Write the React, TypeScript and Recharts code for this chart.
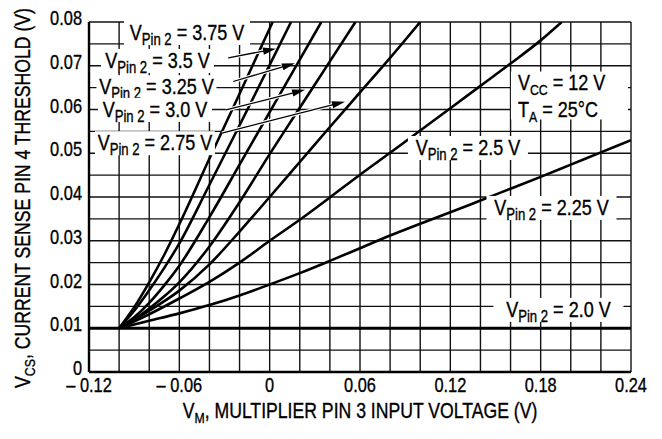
import React from "react";
import {
  LineChart,
  Line,
  XAxis,
  YAxis,
  CartesianGrid,
  ReferenceDot,
  ReferenceLine,
} from "recharts";

const FONT = "'Liberation Sans', Arial, Helvetica, sans-serif";
const SQUEEZE = 0.82;

// Axis ticks and labels
const xTicks = [-0.12, -0.06, 0, 0.06, 0.12, 0.18, 0.24];
const xTickLabels = ["\u2013 0.12", "\u2013 0.06", "0", "0.06", "0.12", "0.18", "0.24"];
const yTicks = [0, 0.01, 0.02, 0.03, 0.04, 0.05, 0.06, 0.07, 0.08];
const yTickLabels = ["0", "0.01", "0.02", "0.03", "0.04", "0.05", "0.06", "0.07", "0.08"];

// Grid values
const xGrid = [
  -0.12, -0.1, -0.08, -0.06, -0.04, -0.02, 0, 0.02, 0.04, 0.06, 0.08, 0.1, 0.12, 0.14,
  0.16, 0.18, 0.2, 0.22, 0.24,
];
const yGrid = [
  0, 0.005, 0.01, 0.015, 0.02, 0.025, 0.03, 0.035, 0.04, 0.045, 0.05, 0.055, 0.06,
  0.065, 0.07, 0.075, 0.08,
];

// Series: [VM, VCS]
const vPin375: [number, number][] = [
  [-0.1, 0.01], [-0.09, 0.0148], [-0.08, 0.0205], [-0.07, 0.0268], [-0.06, 0.0338],
  [-0.04, 0.0488], [-0.02, 0.0636], [0.002, 0.08],
];
const vPin35: [number, number][] = [
  [-0.1, 0.01], [-0.09, 0.014], [-0.08, 0.0187], [-0.07, 0.0238], [-0.06, 0.0294],
  [-0.04, 0.0428], [-0.02, 0.0564], [0, 0.0702], [0.0142, 0.08],
];
const vPin325: [number, number][] = [
  [-0.1, 0.01], [-0.09, 0.0125], [-0.08, 0.0158], [-0.07, 0.0198], [-0.06, 0.0243],
  [-0.04, 0.0354], [-0.02, 0.0474], [0, 0.0594], [0.02, 0.0714], [0.0343, 0.08],
];
const vPin30: [number, number][] = [
  [-0.1, 0.01], [-0.09, 0.012], [-0.08, 0.0145], [-0.07, 0.0173], [-0.06, 0.0205],
  [-0.04, 0.0287], [-0.02, 0.0388], [0, 0.0498], [0.02, 0.0604], [0.04, 0.071],
  [0.057, 0.08],
];
const vPin275: [number, number][] = [
  [-0.1, 0.01], [-0.08, 0.014], [-0.06, 0.0186], [-0.04, 0.0246], [-0.02, 0.0321],
  [0, 0.04], [0.02, 0.048], [0.04, 0.056], [0.06, 0.0639], [0.08, 0.0718], [0.1, 0.08],
];
const vPin25: [number, number][] = [
  [-0.1, 0.01], [-0.08, 0.0132], [-0.06, 0.0168], [-0.04, 0.0206], [-0.02, 0.025],
  [0, 0.03], [0.02, 0.0348], [0.04, 0.0399], [0.06, 0.0451], [0.08, 0.0501],
  [0.1, 0.0552], [0.12, 0.0603], [0.14, 0.0654], [0.16, 0.0705], [0.18, 0.0758],
  [0.194, 0.08],
];
const vPin225: [number, number][] = [
  [-0.1, 0.01], [-0.08, 0.0117], [-0.06, 0.0134], [-0.04, 0.0153], [-0.02, 0.0175],
  [0, 0.02], [0.02, 0.0226], [0.04, 0.0254], [0.06, 0.0283], [0.08, 0.0312],
  [0.1, 0.0339], [0.12, 0.0365], [0.14, 0.0392], [0.16, 0.0419], [0.18, 0.0446],
  [0.2, 0.0474], [0.22, 0.0502], [0.24, 0.053],
];
const vPin20: [number, number][] = [
  [-0.12, 0.01], [0.24, 0.01],
];

const curveList = [vPin375, vPin35, vPin325, vPin30, vPin275, vPin25, vPin225];

// Curve labels
const labelValues = ["3.75", "3.5", "3.25", "3.0", "2.75", "2.5", "2.25", "2.0"];
const labelX = [-0.0549, -0.0745, -0.0752, -0.0762, -0.0762, 0.1317, 0.1872, 0.1918];
const labelY = [0.0775, 0.0711, 0.0651, 0.0599, 0.0523, 0.0512, 0.0375, 0.0142];
const labelBoxW = [126, 113, 120, 114, 120, 120, 130, 130];

// Arrows from labels to curves: tail -> head
const arrowTailX = [-0.0275, -0.0242, -0.029, -0.0317];
const arrowTailY = [0.0718, 0.0664, 0.0599, 0.0546];
const arrowHeadX = [0.0042, 0.0168, 0.0235, 0.05];
const arrowHeadY = [0.0739, 0.0706, 0.0645, 0.0618];

// Conditions box anchor
const condX = 0.1649;
const condY = 0.0632;

const toRows = (pts: [number, number][]) => pts.map(([x, y]) => ({ x, y }));

// Text drawn in Liberation Sans, squeezed horizontally to look like a narrow face
const Narrow = (props: any) => {
  const { x, y, anchor = "start", size, rotate = 0, children } = props;
  return (
    <g transform={`translate(${x},${y}) rotate(${rotate}) scale(${SQUEEZE},1)`}>
      <text
        x={0}
        y={0}
        textAnchor={anchor}
        fontFamily={FONT}
        fontSize={size}
        fill="#000"
        stroke="#000"
        strokeWidth={0.35}
        style={{ whiteSpace: "pre" }}
      >
        {children}
      </text>
    </g>
  );
};

const Sub = (props: any) => {
  const { main, sub, rest, subSize } = props;
  return (
    <>
      <tspan>{main}</tspan>
      <tspan dy={5} fontSize={subSize}>{sub}</tspan>
      <tspan dy={-5}>{rest}</tspan>
    </>
  );
};

const PinLabel = (props: any) => {
  const { cx, cy, value, boxW } = props;
  return (
    <g>
      <rect x={cx - boxW / 2} y={cy - 12} width={boxW} height={24} fill="#fff" />
      <Narrow x={cx} y={cy + 7} anchor="middle" size={22}>
        {Sub({ main: "V", sub: "Pin 2", rest: ` = ${value} V`, subSize: 16 })}
      </Narrow>
    </g>
  );
};

const CondLabel = (props: any) => {
  const { cx, cy } = props;
  return (
    <g>
      <rect x={cx - 7} y={cy - 24} width={117} height={48} fill="#fff" />
      <Narrow x={cx} y={cy - 6} size={22}>
        {Sub({ main: "V", sub: "CC", rest: " = 12 V", subSize: 15 })}
      </Narrow>
      <Narrow x={cx} y={cy + 21} size={22}>
        {Sub({ main: "T", sub: "A", rest: " = 25\u00B0C", subSize: 15 })}
      </Narrow>
    </g>
  );
};

const ArrowShape = (props: any) => {
  const { x1, y1, x2, y2 } = props;
  const dx = x2 - x1;
  const dy = y2 - y1;
  const len = Math.sqrt(dx * dx + dy * dy) || 1;
  const ux = dx / len;
  const uy = dy / len;
  const hl = 13;
  const hw = 3.6;
  const bx = x2 - ux * hl;
  const by = y2 - uy * hl;
  const px = -uy * hw;
  const py = ux * hw;
  return (
    <g>
      <line x1={x1} y1={y1} x2={bx} y2={by} stroke="#fff" strokeWidth={3.5} />
      <line x1={x1} y1={y1} x2={bx + ux * 2} y2={by + uy * 2} stroke="#000" strokeWidth={1.3} />
      <polygon
        points={`${x2},${y2} ${bx + px},${by + py} ${bx - px},${by - py}`}
        fill="#000"
      />
    </g>
  );
};

const XTitle = (props: any) => {
  const vb = props.viewBox || { x: 81, y: 372, width: 542 };
  const cx = vb.x + vb.width / 2;
  return (
    <Narrow x={cx} y={418} anchor="middle" size={21.5}>
      {Sub({ main: "V", sub: "M", rest: ", MULTIPLIER PIN 3 INPUT VOLTAGE (V)", subSize: 15 })}
    </Narrow>
  );
};

const YTitle = () => (
  <Narrow x={22} y={198} anchor="middle" size={21.5} rotate={-90}>
    {Sub({ main: "V", sub: "CS", rest: ", CURRENT SENSE PIN 4 THRESHOLD (V)", subSize: 15 })}
  </Narrow>
);

const fmtX = (v: number) => {
  const i = xTicks.findIndex((t) => Math.abs(t - v) < 1e-9);
  return i >= 0 ? xTickLabels[i] : "";
};
const fmtY = (v: number) => {
  const i = yTicks.findIndex((t) => Math.abs(t - v) < 1e-9);
  return i >= 0 ? yTickLabels[i] : "";
};

const XTick = (props: any) => {
  const { x, y, payload } = props;
  return (
    <Narrow x={x} y={y + 16} anchor="middle" size={20}>
      {fmtX(payload.value)}
    </Narrow>
  );
};

const YTick = (props: any) => {
  const { x, y, payload } = props;
  return (
    <Narrow x={x} y={y + 3} anchor="end" size={20}>
      {fmtY(payload.value)}
    </Narrow>
  );
};

export default function App() {
  return (
    <div style={{ width: 654, height: 439, marginTop: -8, background: "#fff" }}>
      <LineChart
        width={654}
        height={439}
        margin={{ top: 22, right: 31, bottom: 0, left: 0 }}
        style={{ fontFamily: FONT }}
      >
        <CartesianGrid
          stroke="#111"
          strokeWidth={1.4}
          verticalValues={xGrid}
          horizontalValues={yGrid}
        />
        <XAxis
          dataKey="x"
          type="number"
          domain={[-0.12, 0.24]}
          allowDataOverflow
          ticks={xTicks}
          interval={0}
          tickLine={false}
          tickSize={0}
          tickMargin={4}
          axisLine={{ stroke: "#000", strokeWidth: 2.4 }}
          tick={(p: any) => <XTick {...p} />}
          height={67}
          label={{ content: (p: any) => <XTitle {...p} /> }}
        />
        <YAxis
          type="number"
          domain={[0, 0.08]}
          allowDataOverflow
          ticks={yTicks}
          interval={0}
          tickLine={false}
          tickSize={0}
          tickMargin={7}
          axisLine={{ stroke: "#000", strokeWidth: 2.4 }}
          tick={(p: any) => <YTick {...p} />}
          width={81}
          label={{ content: () => <YTitle /> }}
        />
        <Line
          data={toRows(vPin20)}
          dataKey="y"
          type="linear"
          stroke="#000"
          strokeWidth={3.2}
          dot={false}
          activeDot={false}
          isAnimationActive={false}
        />
        {curveList.map((c, i) => (
          <Line
            key={i}
            data={toRows(c)}
            dataKey="y"
            type="monotone"
            stroke="#000"
            strokeWidth={2.6}
            dot={false}
            activeDot={false}
            isAnimationActive={false}
          />
        ))}
        {labelValues.map((v, i) => (
          <ReferenceDot
            key={"l" + i}
            x={labelX[i]}
            y={labelY[i]}
            r={0}
            shape={(p: any) => <PinLabel {...p} value={v} boxW={labelBoxW[i]} />}
          />
        ))}
        <ReferenceDot x={condX} y={condY} r={0} shape={(p: any) => <CondLabel {...p} />} />
        {arrowTailX.map((_, i) => (
          <ReferenceLine
            key={"a" + i}
            segment={[
              { x: arrowTailX[i], y: arrowTailY[i] },
              { x: arrowHeadX[i], y: arrowHeadY[i] },
            ]}
            shape={(p: any) => <ArrowShape {...p} />}
          />
        ))}
      </LineChart>
    </div>
  );
}
